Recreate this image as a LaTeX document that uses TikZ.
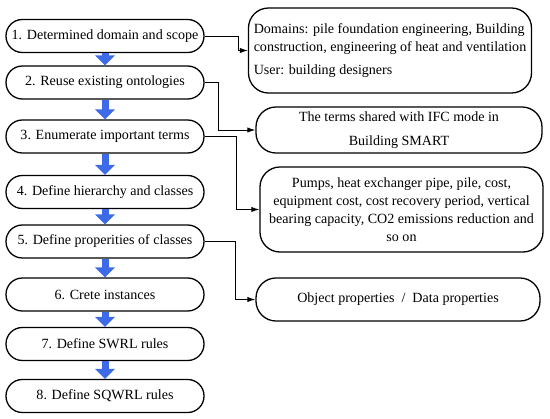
\documentclass[tikz,border=0pt]{standalone}
\usepackage{fontspec}
\setmainfont{Liberation Serif}
\usetikzlibrary{arrows.meta}
\definecolor{ink}{HTML}{000000}
\definecolor{flowblue}{HTML}{3D6BE8}
\tikzset{
  stepbox/.style={draw=ink, line width=1.1pt, rounded corners=0.49cm, fill=white, align=center,
                  font=\fontsize{12}{15.4}\selectfont, minimum width=5.94cm, minimum height=0.99cm, inner sep=2pt},
  note/.style={draw=ink, line width=1.1pt, rounded corners=0.6cm, fill=white,
               font=\fontsize{12}{15.4}\selectfont, inner sep=2pt},
  flow/.style={-{Triangle[length=0.3cm,width=0.58cm]}, line width=0.21cm, draw=flowblue},
  link/.style={-{Latex[length=2.4mm,width=1.6mm]}, line width=0.8pt, draw=ink},
}

\begin{document}
\begin{tikzpicture}[x=0.03cm,y=-0.03cm]
\useasboundingbox (0,0) rectangle (550,419);
% method steps
\node[stepbox] (s1) at (105,36) {1. Determined domain and scope};
\node[stepbox] (s2) at (105,82.5) {2. Reuse existing ontologies};
\node[stepbox] (s3) at (105,136.5) {3. Enumerate important terms};
\node[stepbox] (s4) at (105,192) {4. Define hierarchy and classes};
\node[stepbox] (s5) at (105,241.5) {5. Define properities of classes};
\node[stepbox] (s6) at (105,294.5) {6. Crete instances};
\node[stepbox] (s7) at (105,344) {7. Define SWRL rules};
\node[stepbox] (s8) at (105,396) {8. Define SQWRL rules};
% details
\node[note, align=left, minimum width=8.49cm, minimum height=2.55cm] (d1) at (390,50.5)
   {Domains: pile foundation engineering, Building\\construction, engineering of heat and ventilation\\[4pt]User: building designers};
\node[note, align=center, minimum width=8.58cm, minimum height=1.38cm] (d2) at (399,130)
   {The terms shared with IFC mode in\\[5pt]Building SMART};
\node[note, align=center, minimum width=8.49cm, minimum height=2.55cm] (d3) at (401.5,209.5)
   {Pumps, heat exchanger pipe, pile, cost,\\equipment cost, cost recovery period, vertical\\bearing capacity, CO2 emissions reduction and\\so on};
\node[note, align=center, minimum width=8.52cm, minimum height=1.29cm] (d4) at (398,299.5)
   {Object properties~~/~~Data properties};
% flow between steps
\foreach \a/\b in {s1/s2,s2/s3,s3/s4,s4/s5,s5/s6,s6/s7,s7/s8}{ \draw[flow] (\a.south) -- (\b.north); }
% links to details
\draw[link] (s1.east) -- ++(34,0) |- (d1.west);
\draw[link] (s2.east) -- ++(14,0) |- (d2.west);
\draw[link] (s3.east) -- ++(32,0) |- (d3.west);
\draw[link] (s5.east) -- ++(31,0) |- (d4.west);
\end{tikzpicture}
\end{document}
